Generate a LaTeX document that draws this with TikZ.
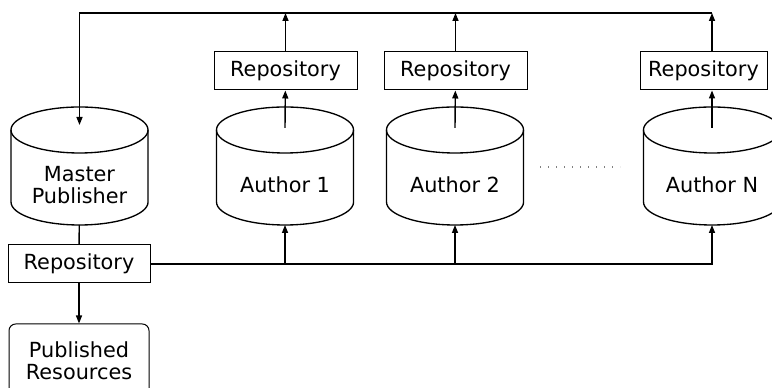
\documentclass[tikz,border=0pt]{standalone}
\usepackage{fontspec}
\setmainfont{DejaVu Sans}
\usetikzlibrary{arrows.meta,calc}

\tikzset{
  store/.style={minimum width=102.75pt, minimum height=60pt, inner sep=0pt,
    outer sep=0pt, align=center},
  repo/.style={draw, line width=0.75pt, minimum height=28.5pt, inner sep=0pt},
  result/.style={draw, line width=0.75pt, rounded corners=5pt, minimum width=105pt,
    minimum height=55.5pt, align=center},
  flow/.style={line width=1.05pt, -{Triangle[length=6pt,width=4.5pt]}},
  rim/.style={line width=1pt}
}

\begin{document}
\begin{tikzpicture}[x=0.75pt, y=0.75pt, font=\fontsize{15.6}{16.2}\selectfont]
  \useasboundingbox (0,0) rectangle (772,388);
  % Define nodes
  \node[store] (mp) at (79.5,203) {Master\\Publisher};
  \node[store] (a1) at (285,203) {Author 1};
  \node[store] (a2) at (455,203) {Author 2};
  \node[store] (an) at (712,203) {Author N};
  \node[repo, minimum width=107.25pt] (r1) at (285.5,317) {Repository};
  \node[repo, minimum width=107.25pt] (r2) at (455.5,317) {Repository};
  \node[repo, minimum width=95.25pt] (rn) at (703.5,317) {Repository};
  \node[repo, minimum width=106.5pt] (r0) at (79,124) {Repository};
  \node[result] (pub) at (79,27) {Published\\Resources};
  \coordinate (corner) at (712,375);
  % Cylinders
  \foreach \n in {mp,a1,a2,an} {
    \draw[rim] ($(\n.north)+(0,15)$) ellipse [x radius=51.4pt, y radius=17.25pt];
    \draw[rim] ($(\n.north west)+(0,15)$) -- ($(\n.south west)+(0,23)$)
      arc [start angle=180, end angle=360, x radius=51.4pt, y radius=17.25pt]
      -- ($(\n.north east)+(0,15)$);
  }
  % Flows
  \draw[line width=1.05pt] (mp) -- (r0);
  \draw[flow] (r0) -- (pub);
  \draw[flow] (r0.east) -| (an.south);
  \draw[flow] (a1.south |- r0.east) -- (a1.south);
  \draw[flow] (a2.south |- r0.east) -- (a2.south);
  \draw[flow] ($(a1.north)+(0,17)$) -- (r1);
  \draw[flow] ($(a2.north)+(0,17)$) -- (r2);
  \draw[flow] ($(an.north)+(0,17)$) -- (an.north |- rn.south);
  \draw[flow] (r1) -- (r1.north |- corner);
  \draw[flow] (r2) -- (r2.north |- corner);
  \draw[flow] (an.north |- rn.north) -- (corner);
  \draw[flow] (corner) -| ($(mp.north)+(0,20)$);
  \draw[line width=1pt, gray, dash pattern=on 1pt off 5pt] (540,221) -- (620,221);
\end{tikzpicture}
\end{document}
